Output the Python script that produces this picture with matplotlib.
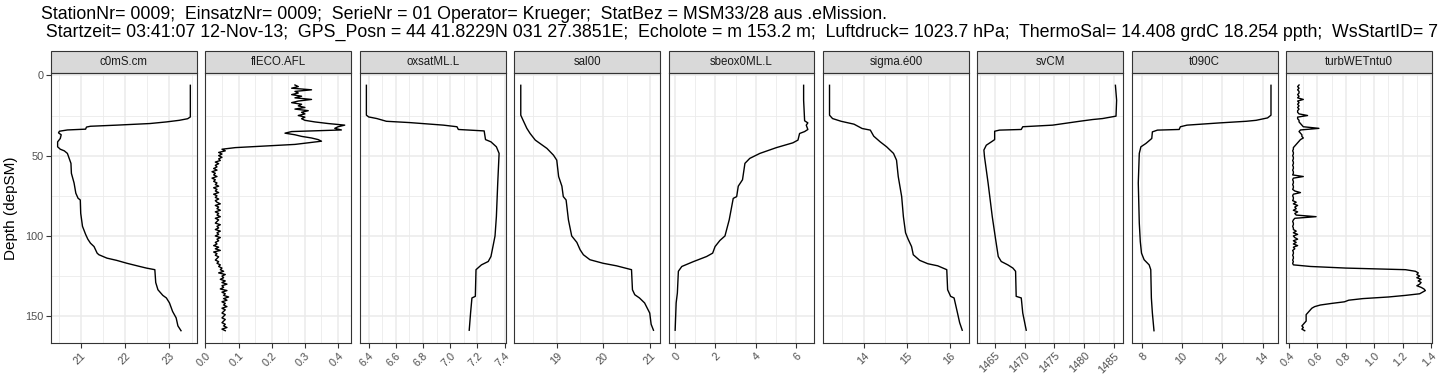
import matplotlib
matplotlib.use("Agg")
import matplotlib.pyplot as plt
import numpy as np
from matplotlib.patches import Rectangle

plt.rcParams['font.family'] = ['Liberation Sans', 'DejaVu Sans']

# panel names in facet order
variables = ["c0mS.cm", "flECO.AFL", "oxsatML.L", "sal00", "sbeox0ML.L",
             "sigma.é00", "svCM", "t090C", "turbWETntu0"]

# smooth profiles as (depth, value) pairs
c0mS = [(6.2, 23.47), (25.9, 23.47), (27, 23.41), (28, 23.22), (29, 22.93), (30, 22.56),
        (31, 21.81), (31.7, 21.22), (32.2, 21.13), (33.5, 21.11), (34, 20.70), (34.8, 20.52),
        (35.8, 20.50), (37, 20.56), (39.3, 20.54), (41.4, 20.48), (44.5, 20.48), (46, 20.54),
        (47, 20.63), (48.6, 20.70), (51.7, 20.74), (54.8, 20.78), (61, 20.79), (67, 20.85),
        (73.4, 20.89), (76.5, 20.94), (77.6, 20.99), (85.9, 21.00), (94, 21.04), (99, 21.11),
        (102, 21.16), (104.5, 21.22), (106.6, 21.30), (110.7, 21.37), (111.7, 21.41),
        (113.8, 21.59), (115.2, 21.81), (117, 22.04), (119, 22.33), (120, 22.48), (121, 22.67),
        (129, 22.69), (133.5, 22.74), (137, 22.85), (138.6, 22.93), (141.7, 23.00), (147, 23.07),
        (151, 23.15), (156, 23.19), (159, 23.26)]

oxsat = [(6.2, 6.383), (24.8, 6.383), (25.9, 6.40), (26.9, 6.46), (28.6, 6.53), (29.4, 6.70),
         (31, 6.95), (32, 7.05), (33.7, 7.06), (34.6, 7.25), (40, 7.26), (41.4, 7.30),
         (44.5, 7.34), (48.6, 7.36), (67, 7.35), (88, 7.34), (100, 7.33), (108.6, 7.31),
         (112.8, 7.30), (115.9, 7.28), (118, 7.23), (121, 7.19), (137.6, 7.185), (138.6, 7.16),
         (148, 7.15), (158.7, 7.14)]

sal00 = [(6.2, 18.23), (24.8, 18.23), (28, 18.28), (33, 18.36), (36.2, 18.43), (40.3, 18.54),
         (45.5, 18.79), (49.7, 18.93), (52.8, 19.00), (63, 19.04), (69, 19.11), (75.5, 19.14),
         (77.6, 19.20), (90, 19.25), (100, 19.32), (104, 19.43), (108.6, 19.50), (111.7, 19.57),
         (114.8, 19.71), (117, 19.99), (118.6, 20.28), (121, 20.60), (133.5, 20.62),
         (136.6, 20.67), (138.6, 20.77), (141.7, 20.88), (148, 20.99), (155, 21.02), (158.7, 21.07)]

sbeox = [(6.2, 6.37), (15.5, 6.37), (28.3, 6.42), (29.6, 6.58), (31, 6.50), (33.7, 6.58),
         (35, 6.42), (36.2, 6.17), (40.3, 6.09), (42, 5.84), (45, 5.02), (48.6, 4.20),
         (51.7, 3.70), (54.8, 3.46), (65, 3.34), (69, 3.13), (75.5, 3.05), (76.6, 2.88),
         (90, 2.68), (100, 2.47), (102.8, 2.22), (106.6, 1.98), (110.7, 1.86), (112.8, 1.56),
         (116, 0.90), (119, 0.33), (122, 0.16), (135.5, 0.11), (141.7, 0.05), (158.7, 0.0)]

sigma = [(6.2, 13.20), (24.8, 13.20), (26.9, 13.27), (28.6, 13.47), (30.4, 13.77), (33.1, 13.96),
         (34.1, 14.15), (37.9, 14.23), (41.4, 14.38), (44.5, 14.53), (48.6, 14.69), (52.8, 14.76),
         (63, 14.80), (75.5, 14.88), (88, 14.92), (98, 14.97), (102, 15.03), (106.6, 15.11),
         (111.7, 15.15), (115.2, 15.30), (117.3, 15.49), (118.6, 15.72), (121, 15.93),
         (133.5, 15.95), (137.6, 16.02), (138.6, 16.10), (148, 16.18), (154, 16.23), (158.7, 16.29)]

svcm = [(6.2, 1485.2), (15.5, 1485.4), (25.4, 1485.3), (26.9, 1483.05), (27.5, 1481.4),
        (28.6, 1479.2), (31, 1474.7), (32, 1469.7), (33.7, 1469.45), (34.1, 1465.8),
        (34.8, 1465.0), (40, 1465.0), (41.4, 1464.45), (43.5, 1463.6), (46.5, 1463.2),
        (50.7, 1463.3), (67, 1463.9), (88, 1464.6), (102.4, 1465.17), (112.8, 1465.6),
        (115.9, 1466.1), (118, 1467.2), (120, 1468.05), (122, 1468.5), (137.6, 1468.6),
        (138.6, 1469.45), (148, 1469.7), (158.7, 1470.28)]

t090 = [(6.2, 14.41), (24.8, 14.41), (26.5, 14.24), (28, 13.67), (28.6, 13.18), (29.6, 11.87),
        (31, 10.24), (32, 9.91), (33.7, 9.85), (34.1, 8.77), (35.2, 8.52), (39.3, 8.49),
        (42.4, 8.20), (44.5, 7.95), (48.6, 7.87), (67, 7.82), (92, 7.87), (103.5, 7.92),
        (110.7, 7.98), (114.8, 8.11), (118, 8.36), (121, 8.44), (138.6, 8.47), (148, 8.52),
        (159, 8.60)]

# noisy profiles, one value per metre from 6 m to 159 m
noisy_depth = np.arange(6, 160)
fleco = [0.27, 0.28, 0.26, 0.32, 0.27, 0.28, 0.26, 0.29, 0.27, 0.32,      # 6-15
         0.28, 0.26, 0.29, 0.28, 0.30, 0.27, 0.31, 0.29, 0.30, 0.28,      # 16-25
         0.30, 0.29, 0.30, 0.33, 0.37, 0.42, 0.40, 0.39, 0.41, 0.26,      # 26-35
         0.24, 0.27, 0.29, 0.32, 0.34, 0.35, 0.31, 0.27, 0.18, 0.09,      # 36-45
         0.05, 0.06, 0.04, 0.05, 0.04, 0.05, 0.04, 0.045, 0.03, 0.04,     # 46-55
         0.03, 0.035, 0.025, 0.035, 0.02, 0.03, 0.025, 0.035, 0.02, 0.03, # 56-65
         0.025, 0.035, 0.03, 0.04, 0.025, 0.035, 0.03, 0.04, 0.025, 0.035,
         0.03, 0.04, 0.03, 0.035, 0.045, 0.03, 0.04, 0.035, 0.045, 0.03,
         0.04, 0.035, 0.045, 0.03, 0.04, 0.035, 0.03, 0.045, 0.035, 0.04,
         0.03, 0.045, 0.035, 0.04, 0.03, 0.045, 0.035, 0.04, 0.03, 0.035,
         0.025, 0.04, 0.03, 0.045, 0.025, 0.035, 0.03, 0.04, 0.035, 0.03,
         0.04, 0.035, 0.045, 0.04, 0.05, 0.045, 0.055, 0.04, 0.06, 0.05,
         0.055, 0.045, 0.06, 0.05, 0.065, 0.05, 0.055, 0.045, 0.065, 0.05,
         0.06, 0.055, 0.07, 0.055, 0.065, 0.05, 0.06, 0.055, 0.065, 0.05,
         0.06, 0.055, 0.05, 0.06, 0.055, 0.05, 0.06, 0.055, 0.05, 0.06,
         0.055, 0.065, 0.05, 0.06]                                        # 156-159

turb = [0.47, 0.46, 0.47, 0.46, 0.47, 0.47, 0.46, 0.47, 0.46, 0.50,       # 6-15
        0.46, 0.47, 0.46, 0.47, 0.46, 0.47, 0.46, 0.46, 0.47, 0.53,
        0.46, 0.46, 0.47, 0.47, 0.48, 0.49, 0.50, 0.61, 0.48, 0.47,
        0.48, 0.49, 0.49, 0.50, 0.48, 0.47, 0.46, 0.45, 0.44, 0.43,
        0.43, 0.425, 0.43, 0.43, 0.425, 0.43, 0.43, 0.425, 0.43, 0.43,
        0.425, 0.43, 0.43, 0.425, 0.43, 0.43, 0.425, 0.50, 0.43, 0.425,
        0.43, 0.43, 0.425, 0.43, 0.43, 0.425, 0.44, 0.48, 0.43, 0.425,
        0.43, 0.43, 0.425, 0.45, 0.43, 0.46, 0.44, 0.45, 0.43, 0.46,
        0.44, 0.45, 0.59, 0.44, 0.43, 0.425, 0.43, 0.43, 0.425, 0.43,
        0.43, 0.45, 0.43, 0.46, 0.43, 0.44, 0.46, 0.43, 0.45, 0.43,
        0.46, 0.43, 0.44, 0.425, 0.43, 0.43, 0.425, 0.43, 0.43, 0.425,
        0.43, 0.425, 0.43, 0.55, 0.80, 1.22, 1.29, 1.31, 1.30, 1.32,      # 116-125
        1.30, 1.33, 1.31, 1.33, 1.32, 1.30, 1.33, 1.35, 1.36, 1.34,
        1.32, 1.22, 1.10, 0.92, 0.82, 0.79, 0.70, 0.62, 0.58, 0.56,
        0.55, 0.54, 0.53, 0.52, 0.52, 0.52, 0.52, 0.52, 0.51, 0.50,
        0.49, 0.50, 0.49, 0.51]                                           # 156-159

# x axis breaks per panel: (major ticks, labels, minor ticks)
x_breaks = [
    ([21, 22, 23], ["21", "22", "23"], [20.5, 21.5, 22.5, 23.5]),
    ([0, 0.1, 0.2, 0.3, 0.4], ["0.0", "0.1", "0.2", "0.3", "0.4"], [0.05, 0.15, 0.25, 0.35]),
    ([6.4, 6.6, 6.8, 7.0, 7.2, 7.4], ["6.4", "6.6", "6.8", "7.0", "7.2", "7.4"],
     [6.5, 6.7, 6.9, 7.1, 7.3]),
    ([19, 20, 21], ["19", "20", "21"], [18.5, 19.5, 20.5]),
    ([0, 2, 4, 6], ["0", "2", "4", "6"], [1, 3, 5]),
    ([14, 15, 16], ["14", "15", "16"], [13.5, 14.5, 15.5]),
    ([1465, 1470, 1475, 1480, 1485], ["1465", "1470", "1475", "1480", "1485"],
     [1462.5, 1467.5, 1472.5, 1477.5, 1482.5]),
    ([8, 10, 12, 14], ["8", "10", "12", "14"], [9, 11, 13]),
    ([0.4, 0.6, 0.8, 1.0, 1.2, 1.4], ["0.4", "0.6", "0.8", "1.0", "1.2", "1.4"],
     [0.5, 0.7, 0.9, 1.1, 1.3]),
]

title_text = ("StationNr= 0009;  EinsatzNr= 0009;  SerieNr = 01 Operator= Krueger;  "
              "StatBez = MSM33/28 aus .eMission.\n"
              " Startzeit= 03:41:07 12-Nov-13;  GPS_Posn = 44 41.8229N 031 27.3851E;  "
              "Echolote = m 153.2 m;  Luftdruck= 1023.7 hPa;  "
              "ThermoSal= 14.408 grdC 18.254 ppth;  WsStartID= 7")

smooth = {"c0mS.cm": c0mS, "oxsatML.L": oxsat, "sal00": sal00, "sbeox0ML.L": sbeox,
          "sigma.é00": sigma, "svCM": svcm, "t090C": t090}
noisy = {"flECO.AFL": fleco, "turbWETntu0": turb}

W, H = 1440, 384
fig = plt.figure(figsize=(W / 100, H / 100), dpi=100)
axes = fig.subplots(1, 9, sharey=True,
                    gridspec_kw=dict(left=51 / W, right=1432 / W,
                                     bottom=1 - 343 / H, top=1 - 72.7 / H,
                                     wspace=8.4 / 146))

strip_h = 22 / 270.3
for i, (ax, name) in enumerate(zip(axes, variables)):
    if name in smooth:
        d, v = zip(*smooth[name])
    else:
        d, v = noisy_depth, noisy[name]
    ax.plot(v, d, color="black", lw=1.0, zorder=3)

    major, labels, minor = x_breaks[i]
    ax.set_xticks(major)
    ax.set_xticklabels(labels, rotation=45, ha="right", va="top", rotation_mode="anchor")
    ax.set_xticks(minor, minor=True)
    ax.set_yticks([0, 50, 100, 150])
    ax.set_yticks([25, 75, 125], minor=True)

    ax.grid(which="major", color="#EBEBEB", lw=1.1, zorder=0)
    ax.grid(which="minor", color="#EBEBEB", lw=0.6, zorder=0)
    ax.set_axisbelow(True)
    for sp in ax.spines.values():
        sp.set_color("#333333")
        sp.set_linewidth(0.8)
    ax.tick_params(which="major", length=3.5, width=0.8, color="#333333",
                   labelcolor="#4D4D4D", labelsize=7.8, pad=2)
    ax.tick_params(which="minor", length=0)
    if i > 0:
        ax.tick_params(axis="y", length=0)

    ax.add_patch(Rectangle((0, 1), 1, strip_h, transform=ax.transAxes, clip_on=False,
                           facecolor="#D9D9D9", edgecolor="#333333", lw=0.8))
    ax.text(0.5, 1 + strip_h / 2, name, transform=ax.transAxes, ha="center", va="center",
            fontsize=8.3, color="#1A1A1A")

axes[0].invert_yaxis()
axes[0].set_ylabel("Depth (depSM)", fontsize=11, color="black", labelpad=5)

fig.text(41 / W, 1 - 6 / H, title_text, ha="left", va="top", fontsize=12.8,
         linespacing=1.1)

fig.savefig("out.png", dpi=100)
